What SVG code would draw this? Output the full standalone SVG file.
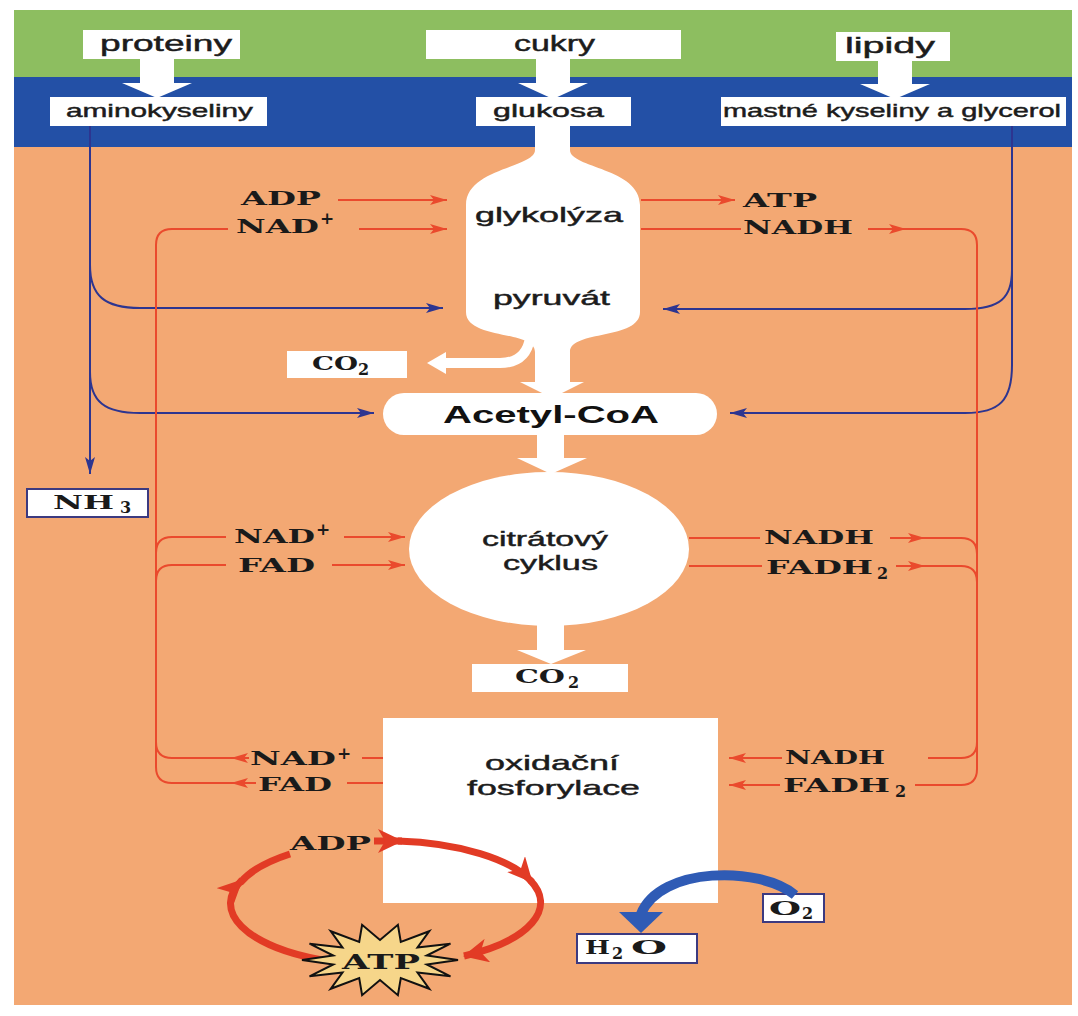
<svg xmlns="http://www.w3.org/2000/svg" width="1078" height="1016" viewBox="0 0 1078 1016">
<defs>
<style>
.sans{font-family:"Liberation Sans",Arial,sans-serif;fill:#1c1c1c;stroke:#1c1c1c;stroke-width:0.45}
.bsans{font-family:"Liberation Sans",Arial,sans-serif;font-weight:bold;fill:#111}
.lab{font-family:"DejaVu Serif","Liberation Serif",serif;font-weight:bold;fill:#1a1a1a}
.sub{font-family:"DejaVu Serif","Liberation Serif",serif;font-weight:bold;fill:#1a1a1a;font-size:16px}
.red{stroke:#ea4a2d;stroke-width:2;fill:none}
.blue{stroke:#2d3590;stroke-width:2;fill:none}
.wbox{fill:#ffffff}
.nbox{fill:#ffffff;stroke:#3c3a80;stroke-width:2}
.cyc{stroke:#e23b25;stroke-width:7;fill:none}
</style>
<marker id="ar" markerUnits="userSpaceOnUse" markerWidth="18" markerHeight="12" refX="17" refY="6" orient="auto"><path d="M0,1 L17,6 L0,11 L4,6 Z" fill="#ea4a2d"/></marker>
<marker id="ab" markerUnits="userSpaceOnUse" markerWidth="18" markerHeight="12" refX="17" refY="6" orient="auto"><path d="M0,1 L17,6 L0,11 L4,6 Z" fill="#2d3590"/></marker>
<marker id="ac" markerUnits="userSpaceOnUse" markerWidth="26" markerHeight="24" refX="24" refY="12" orient="auto"><path d="M0,0 L25,12 L0,24 L7,12 Z" fill="#e23b25"/></marker>
</defs>

<rect width="1078" height="1016" fill="#ffffff"/>
<rect x="14" y="10" width="1058" height="67" fill="#8dbe60"/>
<rect x="14" y="77" width="1058" height="70" fill="#2350a6"/>
<rect x="14" y="147" width="1058" height="858" fill="#f3a873"/>

<g id="flow-arrows" fill="#ffffff">
<path d="M140 59 H174 V83 H192 L157 98 L122 83 H140 Z"/>
<path d="M536 59 H570 V83 H588 L553 99 L518 83 H536 Z"/>
<path d="M878 60 H912 V84 H930 L895 99 L860 84 H878 Z"/>
<path d="M537 435 H564 V458 H587 L551 474 L517 458 H537 Z"/>
<path d="M537 615 H564 V650 H586 L551 664 L517 650 H537 Z"/>
<path d="M530 338 Q526 363 500 363 L444 363" stroke="#ffffff" stroke-width="10" fill="none"/>
<path d="M446 352 L446 374 L427 363 Z"/>
</g>

<g id="proteiny"><rect class="wbox" x="83" y="30" width="157" height="29"/><text class="sans" x="100" y="51" font-size="22" textLength="132" lengthAdjust="spacingAndGlyphs">proteiny</text></g>
<g id="cukry"><rect class="wbox" x="426" y="30" width="255" height="29"/><text class="sans" x="514" y="51" font-size="22" textLength="81" lengthAdjust="spacingAndGlyphs">cukry</text></g>
<g id="lipidy"><rect class="wbox" x="836" y="32" width="114" height="29"/><text class="sans" x="845" y="53" font-size="22" textLength="90" lengthAdjust="spacingAndGlyphs">lipidy</text></g>
<g id="aminokyseliny"><rect class="wbox" x="50" y="97" width="217" height="29"/><text class="sans" x="66" y="117" font-size="19" textLength="187" lengthAdjust="spacingAndGlyphs">aminokyseliny</text></g>
<g id="glukosa"><rect class="wbox" x="476" y="97" width="155" height="29"/><text class="sans" x="493" y="117" font-size="19" textLength="111" lengthAdjust="spacingAndGlyphs">glukosa</text></g>
<g id="mastne"><rect class="wbox" x="721" y="97" width="345" height="29"/><text class="sans" x="723" y="117" font-size="19" textLength="338" lengthAdjust="spacingAndGlyphs">mastné kyseliny a glycerol</text></g>

<g id="glykolyza">
<path class="wbox" d="M535 126 H570 V150 C570 168 640 168 640 205 V312 C640 340 570 330 570 352 V382 H584 L552 398 L520 382 H535 V352 C535 330 466 340 466 312 V205 C466 168 535 168 535 150 Z"/>
<text class="sans" x="475" y="222" font-size="21" textLength="148" lengthAdjust="spacingAndGlyphs">glykolýza</text>
<text class="sans" x="493" y="305" font-size="21" textLength="117" lengthAdjust="spacingAndGlyphs">pyruvát</text>
</g>
<g id="co2-a"><rect class="wbox" x="287" y="351" width="120" height="27"/><text class="lab" x="312" y="370" font-size="19" textLength="46" lengthAdjust="spacingAndGlyphs">CO</text><text class="sub" x="358" y="375">2</text></g>
<g id="acetylcoa"><rect class="wbox" x="383" y="393" width="334" height="42" rx="21"/><text class="bsans" x="443" y="423" font-size="24" textLength="216" lengthAdjust="spacingAndGlyphs">Acetyl-CoA</text></g>
<g id="nh3"><rect class="nbox" x="27" y="489" width="121" height="28"/><text class="lab" x="53" y="509" font-size="19" textLength="61" lengthAdjust="spacingAndGlyphs">NH</text><text class="sub" x="120" y="513">3</text></g>
<g id="citratovy-cyklus">
<ellipse class="wbox" cx="549" cy="549" rx="140" ry="77"/>
<text class="sans" x="482" y="546" font-size="21" textLength="126" lengthAdjust="spacingAndGlyphs">citrátový</text>
<text class="sans" x="503" y="570" font-size="21" textLength="95" lengthAdjust="spacingAndGlyphs">cyklus</text>
</g>
<g id="co2-b"><rect class="wbox" x="472" y="664" width="156" height="28"/><text class="lab" x="515" y="683" font-size="19" textLength="50" lengthAdjust="spacingAndGlyphs">CO</text><text class="sub" x="568" y="688">2</text></g>
<g id="oxidacni-fosforylace">
<rect class="wbox" x="383" y="718" width="335" height="185"/>
<text class="sans" x="485" y="770" font-size="21" textLength="134" lengthAdjust="spacingAndGlyphs">oxidační</text>
<text class="sans" x="467" y="795" font-size="21" textLength="173" lengthAdjust="spacingAndGlyphs">fosforylace</text>
</g>
<g id="h2o"><rect class="nbox" x="577" y="934" width="120" height="29"/><text class="lab" x="585" y="954" font-size="19" textLength="25" lengthAdjust="spacingAndGlyphs">H</text><text class="sub" x="612" y="959">2</text><text class="lab" x="631" y="954" font-size="19" textLength="36" lengthAdjust="spacingAndGlyphs">O</text></g>
<g id="o2"><rect class="nbox" x="763" y="894" width="61" height="28"/><text class="lab" x="769" y="915" font-size="19" textLength="32" lengthAdjust="spacingAndGlyphs">O</text><text class="sub" x="802" y="919">2</text></g>

<g id="connectors">
<path class="blue" d="M90 126 V474" marker-end="url(#ab)"/>
<path class="blue" d="M90 265 C90 296 105 308 140 308 H443" marker-end="url(#ab)"/>
<path class="blue" d="M90 372 C90 402 105 413 140 413 H374" marker-end="url(#ab)"/>
<path class="blue" d="M1012 126 V365 C1012 400 1000 413 965 413 H730" marker-end="url(#ab)"/>
<path class="blue" d="M1012 270 C1012 298 1000 309 965 309 H663" marker-end="url(#ab)"/>

<path class="red" d="M228 229 H172 Q156 229 156 245 V767 Q156 783 172 783 H232"/>
<path class="red" d="M156 742 Q156 758 172 758 H232"/>
<path class="red" d="M156 553 Q156 537 172 537 H226"/>
<path class="red" d="M156 581 Q156 565 172 565 H226"/>
<path class="red" d="M338 200 H447" marker-end="url(#ar)"/>
<path class="red" d="M359 229 H447" marker-end="url(#ar)"/>
<path class="red" d="M344 537 H405" marker-end="url(#ar)"/>
<path class="red" d="M332 565 H405" marker-end="url(#ar)"/>
<path class="red" d="M249 758 H231" marker-end="url(#ar)"/>
<path class="red" d="M256 783 H231" marker-end="url(#ar)"/>
<path class="red" d="M362 758 H383"/>
<path class="red" d="M347 783 H383"/>

<path class="red" d="M641 200 H735" marker-end="url(#ar)"/>
<path class="red" d="M641 229 H741"/>
<path class="red" d="M868 229 H906" marker-end="url(#ar)"/>
<path class="red" d="M904 229 H961 Q977 229 977 245 V769 Q977 785 961 785 H915"/>
<path class="red" d="M977 742 Q977 758 961 758 H928"/>
<path class="red" d="M689 538 H760"/>
<path class="red" d="M890 538 H925" marker-end="url(#ar)"/>
<path class="red" d="M923 538 H961 Q977 538 977 554"/>
<path class="red" d="M689 566 H762"/>
<path class="red" d="M896 566 H925" marker-end="url(#ar)"/>
<path class="red" d="M923 566 H961 Q977 566 977 582"/>
<path class="red" d="M782 758 H729" marker-end="url(#ar)"/>
<path class="red" d="M780 785 H729" marker-end="url(#ar)"/>

<path class="cyc" d="M374 841 L402 841" marker-end="url(#ac)"/>
<path class="cyc" d="M398 841 A155 62 0 0 1 532 882" marker-end="url(#ac)"/>
<path class="cyc" d="M530 880 A155 62 0 0 1 464 956" marker-end="url(#ac)"/>
<path class="cyc" d="M322 960 A155 62 0 0 1 242 880" marker-end="url(#ac)"/>
<path class="cyc" d="M240 883 A155 62 0 0 1 290 854"/>

<path d="M795 895 C760 866 660 866 641 914" stroke="#2f5bb5" stroke-width="10" fill="none"/>
<path d="M619 912 L663 912 L641 933 Z" fill="#2f5bb5"/>
</g>

<g id="labels">
<text class="lab" x="241" y="205" font-size="19" textLength="80" lengthAdjust="spacingAndGlyphs">ADP</text>
<text class="lab" x="236" y="233" font-size="19" textLength="83" lengthAdjust="spacingAndGlyphs">NAD</text><text class="lab" x="320" y="224" font-size="17">+</text>
<text class="lab" x="743" y="207" font-size="19" textLength="74" lengthAdjust="spacingAndGlyphs">ATP</text>
<text class="lab" x="743" y="234" font-size="19" textLength="110" lengthAdjust="spacingAndGlyphs">NADH</text>
<text class="lab" x="234" y="543" font-size="19" textLength="81" lengthAdjust="spacingAndGlyphs">NAD</text><text class="lab" x="316" y="535" font-size="17">+</text>
<text class="lab" x="238" y="572" font-size="19" textLength="77" lengthAdjust="spacingAndGlyphs">FAD</text>
<text class="lab" x="764" y="544" font-size="19" textLength="110" lengthAdjust="spacingAndGlyphs">NADH</text>
<text class="lab" x="766" y="574" font-size="19" textLength="107" lengthAdjust="spacingAndGlyphs">FADH</text><text class="sub" x="877" y="579">2</text>
<text class="lab" x="250" y="765" font-size="19" textLength="86" lengthAdjust="spacingAndGlyphs">NAD</text><text class="lab" x="337" y="759" font-size="17">+</text>
<text class="lab" x="258" y="791" font-size="19" textLength="74" lengthAdjust="spacingAndGlyphs">FAD</text>
<text class="lab" x="785" y="764" font-size="19" textLength="100" lengthAdjust="spacingAndGlyphs">NADH</text>
<text class="lab" x="783" y="792" font-size="19" textLength="107" lengthAdjust="spacingAndGlyphs">FADH</text><text class="sub" x="895" y="797">2</text>
<text class="lab" x="290" y="850" font-size="19" textLength="81" lengthAdjust="spacingAndGlyphs">ADP</text>
</g>

<g id="atp">
<polygon points="458,960 426.8,964.5 450.5,976.3 417.5,972.5 429.3,988.8 400.8,978 397.9,995.2 380,980 362.1,995.2 359.2,978 330.7,988.8 342.5,972.5 309.5,976.3 333.2,964.5 302,960 333.2,955.5 309.5,943.7 342.5,947.5 330.7,931.2 359.2,942 362.1,924.8 380,940 397.9,924.8 400.8,942 429.3,931.2 417.5,947.5 450.5,943.7 426.8,955.5" fill="#f6d68a" stroke="#111" stroke-width="2" stroke-linejoin="miter"/>
<text class="lab" x="342" y="969" font-size="21" textLength="78" lengthAdjust="spacingAndGlyphs">ATP</text>
</g>
</svg>
